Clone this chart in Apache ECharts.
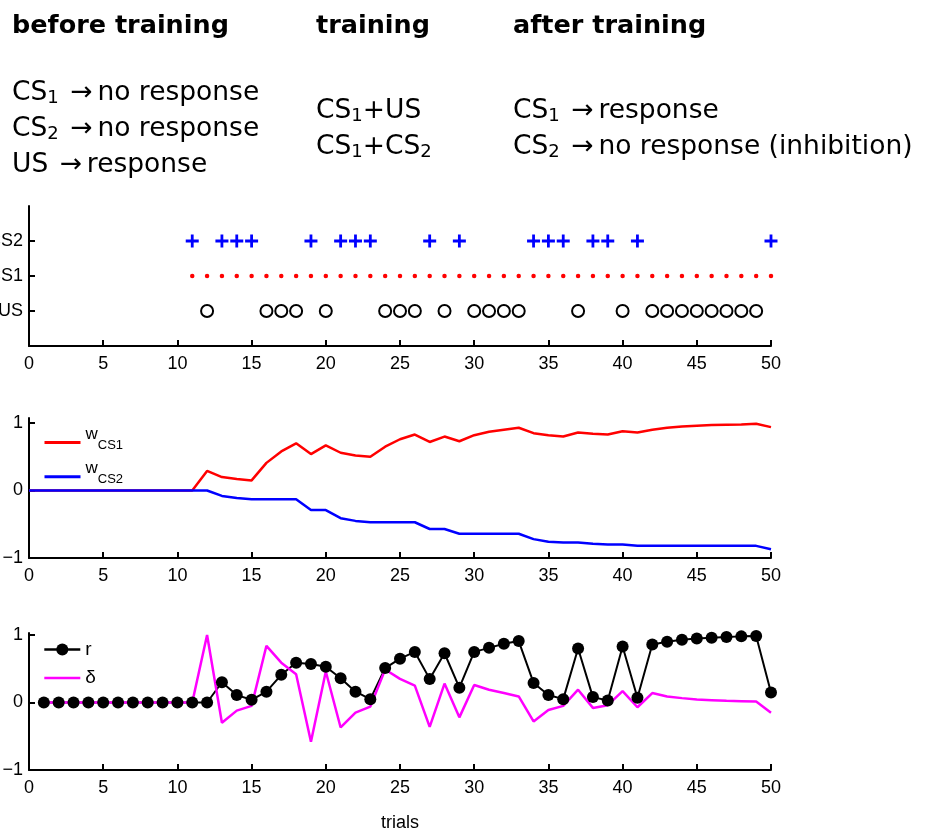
<!DOCTYPE html>
<html><head><meta charset="utf-8">
<script src="https://cdn.jsdelivr.net/npm/echarts@6/dist/echarts.min.js"></script>
<style>html,body{margin:0;padding:0;background:#fff}#c{width:936px;height:830px}</style>
</head><body><div id="c"></div>
<script>
// ---- data ----
const stimulusLabels = ['US', 'CS1', 'CS2'];           // rows 1,2,3 of top panel
const cs2Trials = [11,13,14,15,19,21,22,23,27,29,34,35,36,38,39,41,50];
const cs1Trials = [11,12,13,14,15,16,17,18,19,20,21,22,23,24,25,26,27,28,29,30,
                   31,32,33,34,35,36,37,38,39,40,41,42,43,44,45,46,47,48,49,50];
const usTrials  = [12,16,17,18,20,24,25,26,28,30,31,32,33,37,40,42,43,44,45,46,47,48,49];

// weights, trials 0..50
const wCS1 = [0,0,0,0,0,0,0,0,0,0,0,0,
  0.29,0.20,0.17,0.15,0.41,0.58,0.70,0.54,0.67,0.56,0.52,0.50,0.65,0.76,0.83,0.72,0.80,0.73,
  0.82,0.87,0.90,0.93,0.85,0.82,0.80,0.86,0.84,0.83,0.88,0.86,0.90,0.93,0.95,0.96,0.97,0.975,0.98,0.99,0.94];
const wCS2 = [0,0,0,0,0,0,0,0,0,0,0,0,0,
  -0.08,-0.11,-0.13,-0.13,-0.13,-0.13,-0.29,-0.29,-0.41,-0.45,-0.47,-0.47,-0.47,-0.47,-0.57,-0.57,-0.64,
  -0.64,-0.64,-0.64,-0.64,-0.72,-0.76,-0.77,-0.77,-0.79,-0.80,-0.80,-0.82,-0.82,-0.82,-0.82,-0.82,-0.82,-0.82,-0.82,-0.82,-0.87];

// response r and prediction error delta, trials 1..50
const rVals = [0,0,0,0,0,0,0,0,0,0,0,0,
  0.30,0.11,0.04,0.16,0.41,0.59,0.57,0.53,0.36,0.16,0.05,0.51,0.65,0.75,0.35,0.73,0.22,
  0.75,0.81,0.87,0.91,0.29,0.11,0.05,0.80,0.08,0.03,0.83,0.07,0.86,0.90,0.93,0.95,0.96,0.97,0.98,0.985,0.15];
const deltaVals = [0,0,0,0,0,0,0,0,0,0,0,
  1.0,-0.30,-0.12,-0.05,0.84,0.59,0.42,-0.58,0.46,-0.37,-0.15,-0.06,0.49,0.35,0.25,-0.36,0.28,-0.22,
  0.26,0.19,0.14,0.09,-0.28,-0.11,-0.05,0.19,-0.08,-0.04,0.17,-0.07,0.14,0.09,0.065,0.045,0.035,0.025,0.02,0.015,-0.15];

const yTickVals = [-1, 0, 1];

// ---- chart ----
const AX = 'Liberation Sans';
const TXT = 'DejaVu Sans';
const chart = echarts.init(document.getElementById('c'), null, {renderer: 'canvas'});

function xAxis(gi, extra) {
  return Object.assign({
    type: 'value', gridIndex: gi, min: 0, max: 50, interval: 5,
    axisLine: {show: true, onZero: false, lineStyle: {color: '#000', width: 2}},
    axisTick: {show: true, inside: true, length: 6, lineStyle: {color: '#000', width: 2}},
    axisLabel: {color: '#000', fontSize: 18, fontFamily: AX, margin: 9},
    splitLine: {show: false}
  }, extra || {});
}
function yAxisW(gi, max) {
  return {
    type: 'value', gridIndex: gi, min: -1, max: max,
    axisLine: {show: true, onZero: false, lineStyle: {color: '#000', width: 2}},
    axisTick: {show: true, inside: true, length: 6, customValues: yTickVals, lineStyle: {color: '#000', width: 2}},
    axisLabel: {color: '#000', fontSize: 18, fontFamily: AX, margin: 6, customValues: yTickVals,
      formatter: v => v < 0 ? '\u2212' + Math.abs(v) : String(v)},
    splitLine: {show: false}
  };
}

const sub = (fs, pad) => ({fontSize: fs, fontFamily: TXT, fill: '#000', lineHeight: 36, padding: [pad, 0, 0, 0]});
const richTop = {
  a: {fontSize: 26.5, fontFamily: TXT, fill: '#000', lineHeight: 36},
  s: sub(18, 10),
  r: {fontSize: 26.5, fontFamily: TXT, fill: '#000', lineHeight: 36, padding: [0, 5, 0, 3]}
};
const gridBase = {left: 29, width: 742, containLabel: false, outerBoundsMode: 'none'};

const option = {
  animation: false,
  backgroundColor: '#fff',
  grid: [
    Object.assign({top: 206, height: 140}, gridBase),
    Object.assign({top: 418, height: 140}, gridBase),
    Object.assign({top: 633, height: 137}, gridBase)
  ],
  xAxis: [xAxis(0), xAxis(1), xAxis(2, {name: 'trials', nameLocation: 'middle', nameGap: 44,
    nameTextStyle: {color: '#000', fontSize: 18, fontFamily: AX}})],
  yAxis: [
    {type: 'value', gridIndex: 0, min: 0, max: 4, interval: 1,
     axisLine: {show: true, lineStyle: {color: '#000', width: 2}},
     axisTick: {show: true, inside: true, length: 6, customValues: [1, 2, 3], lineStyle: {color: '#000', width: 2}},
     axisLabel: {color: '#000', fontSize: 18, fontFamily: AX, margin: 6, customValues: [1, 2, 3],
       formatter: v => stimulusLabels[v - 1] || ''},
     splitLine: {show: false}},
    yAxisW(1, 1.075),
    yAxisW(2, 1.03)
  ],
  legend: [
    {data: ['wCS1', 'wCS2'], orient: 'vertical', left: 43, top: 426, padding: 0,
     itemWidth: 36, itemHeight: 14, itemGap: 8.2, selectedMode: false,
     itemStyle: {opacity: 0}, lineStyle: {width: 3},
     formatter: n => '{w|w}{s|' + n.slice(1) + '}',
     textStyle: {color: '#000', rich: {
       w: {fontSize: 17, fontFamily: AX, color: '#000', padding: [0, 0, 16, 0]},
       s: {fontSize: 13, fontFamily: AX, color: '#000', padding: [6, 0, 0, 0]}}}},
    {data: ['r', {name: '\u03b4', itemStyle: {opacity: 0}}], orient: 'vertical', left: 43, top: 640, padding: 0,
     itemWidth: 36, itemHeight: 15, itemGap: 9.5, selectedMode: false, lineStyle: {width: 2.6},
     textStyle: {color: '#000', fontSize: 19, fontFamily: AX}}
  ],
  graphic: [
    {type: 'text', x: 12, y: 26, style: {text: 'before training', fontSize: 25.5, fontWeight: 'bold', fontFamily: TXT, fill: '#000', verticalAlign: 'middle'}},
    {type: 'text', x: 316, y: 26, style: {text: 'training', fontSize: 25.5, fontWeight: 'bold', fontFamily: TXT, fill: '#000', verticalAlign: 'middle'}},
    {type: 'text', x: 513, y: 26, style: {text: 'after training', fontSize: 25.5, fontWeight: 'bold', fontFamily: TXT, fill: '#000', verticalAlign: 'middle'}},
    {type: 'text', x: 12, y: 75, style: {
      text: '{a|CS}{s|1}{r| \u2192}{a|no response}\n{a|CS}{s|2}{r| \u2192}{a|no response}\n{a|US}{r| \u2192}{a|response}',
      rich: richTop, verticalAlign: 'top'}},
    {type: 'text', x: 316, y: 93, style: {
      text: '{a|CS}{s|1}{a|+US}\n{a|CS}{s|1}{a|+CS}{s|2}',
      rich: richTop, verticalAlign: 'top'}},
    {type: 'text', x: 513, y: 93, style: {
      text: '{a|CS}{s|1}{r| \u2192}{a|response}\n{a|CS}{s|2}{r| \u2192}{a|no response (inhibition)}',
      rich: richTop, verticalAlign: 'top'}}
  ],
  series: [
    {name: 'CS2', type: 'scatter', xAxisIndex: 0, yAxisIndex: 0,
     symbol: 'path://M5.1,0H7.9V5.1H13V7.9H7.9V13H5.1V7.9H0V5.1H5.1Z', symbolSize: 13,
     itemStyle: {color: '#0000ff', opacity: 1}, data: cs2Trials.map(t => [t, 3])},
    {name: 'CS1', type: 'scatter', xAxisIndex: 0, yAxisIndex: 0,
     symbol: 'circle', symbolSize: 4.5, itemStyle: {color: '#ff0000', opacity: 1}, data: cs1Trials.map(t => [t, 2])},
    {name: 'US', type: 'scatter', xAxisIndex: 0, yAxisIndex: 0,
     symbol: 'emptyCircle', symbolSize: 12, itemStyle: {color: '#000', borderWidth: 2.7, opacity: 1},
     data: usTrials.map(t => [t, 1])},
    {name: 'wCS1', type: 'line', xAxisIndex: 1, yAxisIndex: 1, symbol: 'none',
     lineStyle: {color: '#ff0000', width: 2.5}, itemStyle: {color: '#ff0000'},
     data: wCS1.map((v, i) => [i, v])},
    {name: 'wCS2', type: 'line', xAxisIndex: 1, yAxisIndex: 1, symbol: 'none',
     lineStyle: {color: '#0000ff', width: 2.5}, itemStyle: {color: '#0000ff'},
     data: wCS2.map((v, i) => [i, v])},
    {name: 'r', type: 'line', xAxisIndex: 2, yAxisIndex: 2, symbol: 'circle', symbolSize: 12,
     lineStyle: {color: '#000', width: 2}, itemStyle: {color: '#000'},
     data: rVals.map((v, i) => [i + 1, v])},
    {name: '\u03b4', type: 'line', xAxisIndex: 2, yAxisIndex: 2, symbol: 'none',
     lineStyle: {color: '#ff00ff', width: 2.5}, itemStyle: {color: '#ff00ff'},
     data: deltaVals.map((v, i) => [i + 1, v])}
  ]
};
chart.setOption(option);
</script></body></html>
